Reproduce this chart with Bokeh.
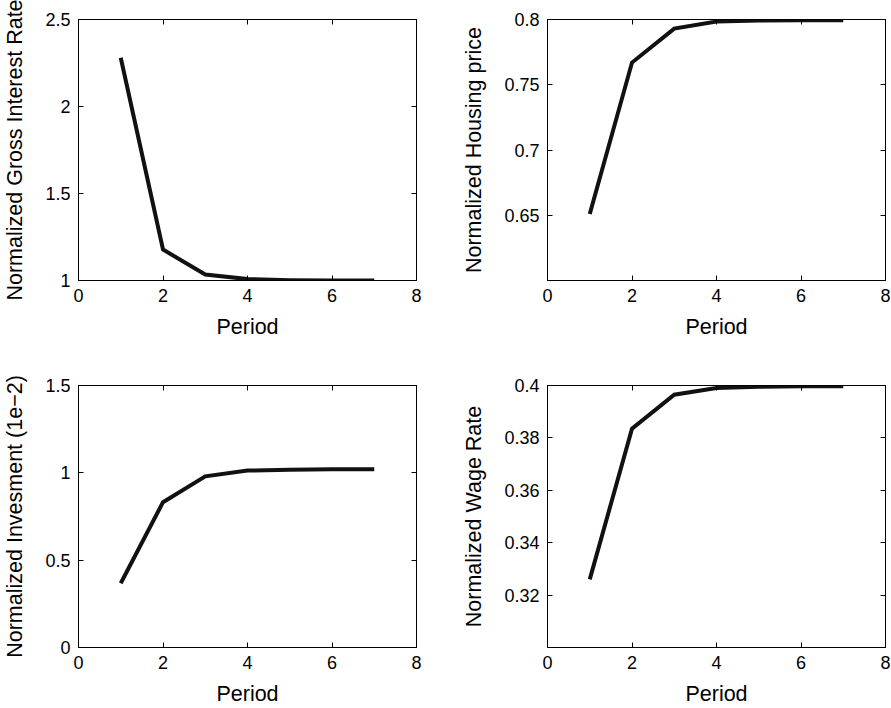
from bokeh.plotting import figure
from bokeh.models import Range1d, LinearAxis, FixedTicker, CustomJSTickFormatter
from bokeh.layouts import gridplot
from bokeh.embed import file_html
from bokeh.resources import INLINE

period = [1, 2, 3, 4, 5, 6, 7]
interest = [2.28, 1.178, 1.034, 1.008, 1.002, 1.0, 1.0]
housing = [0.651, 0.767, 0.793, 0.7985, 0.7992, 0.7995, 0.7995]
investment = [0.368, 0.832, 0.98, 1.013, 1.018, 1.02, 1.02]
wage = [0.326, 0.3835, 0.3965, 0.399, 0.3995, 0.3997, 0.3997]

x_ticks = [0, 2, 4, 6, 8]
x_labels = ["0", "2", "4", "6", "8"]
interest_ticks = [1, 1.5, 2, 2.5]
interest_labels = ["1", "1.5", "2", "2.5"]
housing_ticks = [0.65, 0.7, 0.75, 0.8]
housing_labels = ["0.65", "0.7", "0.75", "0.8"]
invest_ticks = [0, 0.5, 1, 1.5]
invest_labels = ["0", "0.5", "1", "1.5"]
wage_ticks = [0.32, 0.34, 0.36, 0.38, 0.4]
wage_labels = ["0.32", "0.34", "0.36", "0.38", "0.4"]

FONT = "Liberation Sans"


def style_axis(ax, ticks, labels, show_labels=True):
    ax.ticker = FixedTicker(ticks=ticks)
    ax.minor_tick_line_color = None
    ax.major_tick_in = 5
    ax.major_tick_out = 0
    ax.axis_line_color = "black"
    ax.major_tick_line_color = "black"
    ax.major_label_text_font = FONT
    ax.axis_label_text_font = FONT
    ax.axis_label_text_font_style = "normal"
    ax.axis_label_text_color = "black"
    ax.axis_label_text_font_size = "21.5px"
    if show_labels:
        ax.major_label_overrides = dict(zip(ticks, labels))
        ax.major_label_text_font_size = "18px"
        ax.major_label_text_color = "black"
    else:
        ax.formatter = CustomJSTickFormatter(code="return '';")
        ax.major_label_text_font_size = "1px"
        ax.major_label_text_color = None
        ax.major_label_standoff = 0


def make(ys, ylabel, yrange, yticks, ylabels, width, height, bl, br, bt, bb):
    p = figure(width=width, height=height, x_range=Range1d(0, 8),
               y_range=Range1d(*yrange), output_backend="svg",
               toolbar_location=None, min_border_left=bl, min_border_right=br,
               min_border_top=bt, min_border_bottom=bb)
    p.line(period, ys, line_color="#111111", line_width=4, line_join="miter")
    p.xgrid.visible = False
    p.ygrid.visible = False
    p.outline_line_color = "black"
    p.outline_line_alpha = 1
    style_axis(p.xaxis[0], x_ticks, x_labels)
    style_axis(p.yaxis[0], yticks, ylabels)
    p.xaxis[0].axis_label = "Period"
    p.xaxis[0].major_label_standoff = 8
    p.xaxis[0].axis_label_standoff = 10
    p.yaxis[0].axis_label = ylabel
    p.yaxis[0].major_label_standoff = 8
    p.yaxis[0].axis_label_standoff = 15
    top = LinearAxis()
    style_axis(top, x_ticks, x_labels, show_labels=False)
    right = LinearAxis()
    style_axis(right, yticks, ylabels, show_labels=False)
    p.add_layout(top, "above")
    p.add_layout(right, "right")
    return p


p1 = make(interest, "Normalized Gross Interest Rate", (1, 2.5), interest_ticks,
          interest_labels, 440, 349, 78, 24, 19, 69)
p2 = make(housing, "Normalized Housing price", (0.6, 0.8), housing_ticks,
          housing_labels, 451, 349, 107, 6, 19, 69)
p3 = make(investment, "Normalized Invesment (1e\u22122)", (0, 1.5), invest_ticks,
          invest_labels, 440, 359, 78, 24, 36, 61)
p4 = make(wage, "Normalized Wage Rate", (0.3, 0.4), wage_ticks,
          wage_labels, 451, 359, 107, 6, 36, 61)

grid = gridplot([[p1, p2], [p3, p4]], toolbar_location=None)

open("out.html", "w").write(file_html(grid, INLINE))
